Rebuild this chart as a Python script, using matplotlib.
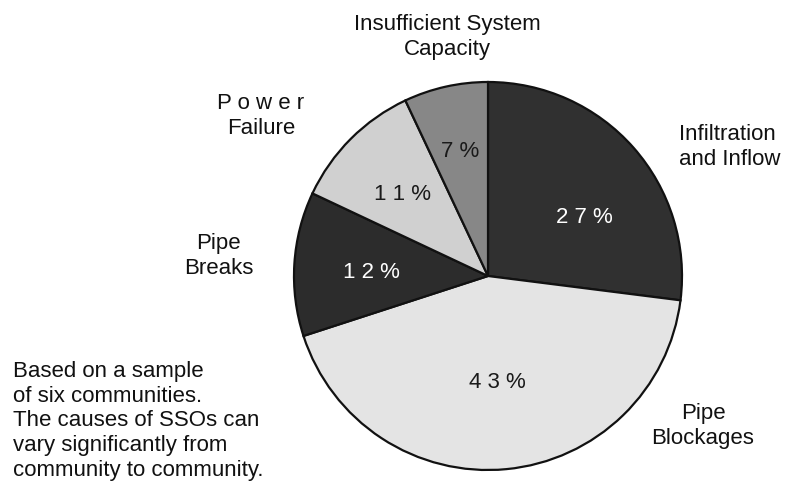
import matplotlib.pyplot as plt

plt.rcParams['font.family'] = ['Liberation Sans', 'DejaVu Sans']

# data (clockwise from top)
causes = ['Infiltration\nand Inflow', 'Pipe\nBlockages', 'Pipe\nBreaks', 'P o w e r\nFailure', 'Insufficient System\nCapacity']
shares = [27, 43, 12, 11, 7]
pct_labels = ['2 7 %', '4 3 %', '1 2 %', '1 1 %', '7 %']
colors = ['#303030', '#e4e4e4', '#2c2c2c', '#d0d0d0', '#878787']
pct_colors = ['white', '#1a1a1a', 'white', '#1a1a1a', '#1a1a1a']

W, H = 792, 504
cx, cy, r = 488, 276, 194

fig = plt.figure(figsize=(7.92, 5.04), dpi=100)
ax = fig.add_axes([(cx - r) / W, (H - cy - r) / H, 2 * r / W, 2 * r / H])
wedges, _ = ax.pie(shares, colors=colors, startangle=90, counterclock=False,
                   radius=1, wedgeprops=dict(edgecolor='#111111', linewidth=1.6))
ax.set_xlim(-1, 1)
ax.set_ylim(-1, 1)
ax.set_aspect('equal')
ax.axis('off')

# percent labels inside slices
pct_pos = [(0.495, 0.30), (0.046, -0.55), (-0.60, 0.02), (-0.44, 0.42), (-0.144, 0.644)]
for (x, y), t, c in zip(pct_pos, pct_labels, pct_colors):
    ax.text(x, y, t, ha='center', va='center', fontsize=16, color=c)

# category labels around the pie
lab_pos = [(0.985, 0.665, 'left'), (1.108, -0.773, 'center'), (-1.387, 0.103, 'center'),
           (-1.17, 0.825, 'center'), (-0.211, 1.232, 'center')]
for (x, y, ha), t in zip(lab_pos, causes):
    ax.text(x, y, t, ha=ha, va='center', fontsize=16, color='#111111',
            linespacing=1.25, clip_on=False)

note = ('Based on a sample\nof six communities.\nThe causes of SSOs can\n'
        'vary significantly from\ncommunity to community.')
fig.text(13 / W, 1 - 421 / H, note, ha='left', va='center', fontsize=16,
         color='#111111', linespacing=1.22)

fig.savefig('out.png', dpi=100)
